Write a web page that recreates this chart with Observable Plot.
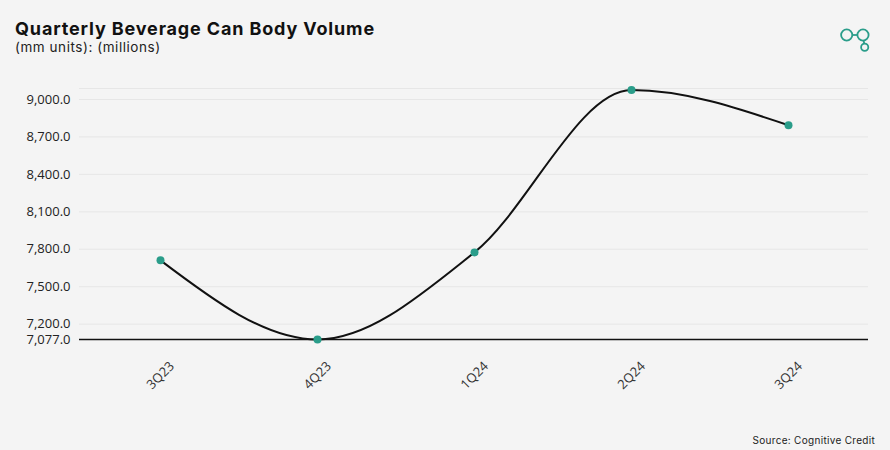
<!DOCTYPE html>
<html>
<head>
<meta charset="utf-8">
<script src="https://cdn.jsdelivr.net/npm/d3@7"></script>
<script src="https://cdn.jsdelivr.net/npm/@observablehq/plot@0.6"></script>
<style>
  html, body { margin: 0; padding: 0; background: #f4f4f4; }
  #wrap { position: relative; width: 890px; height: 450px; background: #f4f4f4; overflow: hidden; }
  #header { height: 60px; position: relative; }
  #title { position: absolute; left: 15px; top: 18px; font-family: Inter, "DejaVu Sans", sans-serif; font-weight: 700; font-size: 18px; color: #111; letter-spacing: 0.85px; }
  #subtitle { position: absolute; left: 15px; top: 39px; font-family: Inter, "DejaVu Sans", sans-serif; font-size: 13.5px; color: #222; letter-spacing: 0.55px; }
  #logo { position: absolute; left: 834px; top: 22px; }
  #footer { position: relative; height: 30px; }
  #source { position: absolute; right: 15px; top: 14px; font-family: Inter, "DejaVu Sans", sans-serif; font-size: 10px; color: #222; letter-spacing: 0.3px; }
  svg.plot { display: block; }
</style>
</head>
<body>
<div id="wrap">
  <div id="header">
    <div id="title">Quarterly Beverage Can Body Volume</div>
    <div id="subtitle">(mm units): (millions)</div>
    <svg id="logo" width="40" height="32" viewBox="0 0 40 32">
      <g fill="none" stroke="#2a9d8a" stroke-width="1.8">
        <circle cx="12.7" cy="13" r="5.6"/>
        <circle cx="29" cy="13" r="5.6"/>
        <line x1="18.3" y1="13" x2="23.4" y2="13"/>
        <line x1="29.6" y1="18.6" x2="30.3" y2="21.7"/>
        <circle cx="30.7" cy="25.3" r="3.6"/>
      </g>
    </svg>
  </div>
  <div id="chart"></div>
  <div id="footer"><div id="source">Source: Cognitive Credit</div></div>
</div>
<script>
const quarters = ["3Q23", "4Q23", "1Q24", "2Q24", "3Q24"];
const volumes = [7711, 7077, 7775, 9075, 8794];
const yTicks = [7077, 7200, 7500, 7800, 8100, 8400, 8700, 9000];
const gridValues = [7200, 7500, 7800, 8100, 8400, 8700, 9000, 9088];
const yDomain = [7077, 9088];

const data = quarters.map((q, i) => ({quarter: q, value: volumes[i]}));
const fmt = d3.format(",.1f");

const chart = Plot.plot({
  width: 890,
  height: 360,
  marginTop: 28,
  marginBottom: 81,
  marginLeft: 79,
  marginRight: 22,
  style: {background: "#f4f4f4", fontFamily: "'Open Sans', sans-serif"},
  x: {type: "point", domain: quarters, padding: 0.5, label: null, axis: null},
  y: {domain: yDomain, label: null},
  marks: [
    Plot.ruleY(gridValues, {stroke: "#e6e6e6", strokeWidth: 1}),
    Plot.ruleY([yDomain[0]], {stroke: "#111", strokeWidth: 1.3}),
    Plot.axisY({ticks: yTicks, tickFormat: fmt, tickSize: 0, tickPadding: 9, fontSize: 13, color: "#222", label: null}),
    Plot.text(quarters, {x: d => d, y: () => yDomain[0], text: d => d, rotate: -45, textAnchor: "middle", lineAnchor: "middle", dy: 36, fontSize: 13, fill: "#333"}),
    Plot.line(data, {x: "quarter", y: "value", curve: "monotone-x", stroke: "#111", strokeWidth: 2}),
    Plot.dot(data, {x: "quarter", y: "value", r: 4, fill: "#2a9d8a", stroke: "none"})
  ]
});
document.getElementById("chart").appendChild(chart);
</script>
</body>
</html>
